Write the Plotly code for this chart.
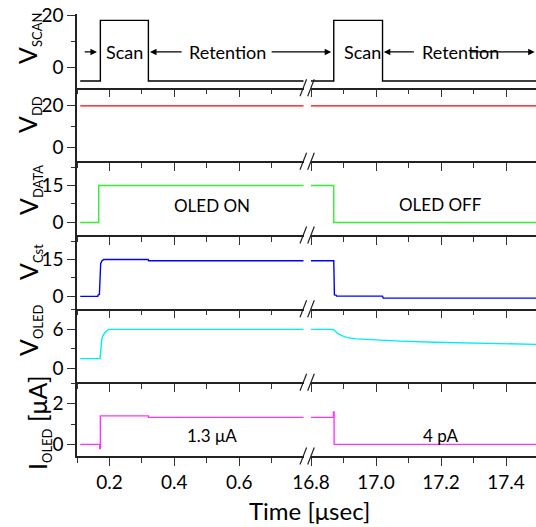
import plotly.graph_objects as go
from plotly.subplots import make_subplots

# ---------------- data (time in microseconds) ----------------
# left segment (0.1 - 0.8 us) and right segment (16.8 - 17.5 us)
scan_t_l = [0.11, 0.172, 0.172, 0.32, 0.32, 0.8]
scan_v_l = [-5, -5, 18, 18, -5, -5]
scan_t_r = [16.8, 16.87, 16.87, 17.02, 17.02, 17.5]
scan_v_r = [-5, -5, 18, 18, -5, -5]

vdd_t_l = [0.11, 0.8]
vdd_v_l = [20, 20]
vdd_t_r = [16.8, 17.5]
vdd_v_r = [20, 20]

data_t_l = [0.11, 0.167, 0.167, 0.8]
data_v_l = [0, 0, 15, 15]
data_t_r = [16.8, 16.87, 16.87, 17.5]
data_v_r = [15, 15, 0, 0]

cst_t_l = [0.11, 0.164, 0.165, 0.169, 0.173, 0.178, 0.183, 0.3195, 0.3205, 0.8]
cst_v_l = [0, 0, 0.6, 0.8, 13.4, 14.7, 15, 15, 14.5, 14.5]
cst_t_r = [16.8, 16.87, 16.872, 16.877, 16.879, 17.02, 17.022, 17.5]
cst_v_r = [14.5, 14.5, 0.6, 0.5, 0.1, 0.1, -0.7, -0.7]

oled_t_l = [0.11, 0.171, 0.173, 0.176, 0.180, 0.186, 0.193, 0.2, 0.8]
oled_v_l = [1.5, 1.5, 2.5, 4.3, 5.0, 5.5, 5.8, 5.95, 5.95]
oled_t_r = [16.8, 16.869, 16.873, 16.878, 16.883, 16.895, 16.912, 16.94,
            16.973, 17.02, 17.076, 17.18, 17.28, 17.5]
oled_v_r = [5.95, 5.95, 5.75, 5.5, 5.3, 5.0, 4.7, 4.5,
            4.4, 4.28, 4.17, 4.0, 3.88, 3.66]

ioled_t_l = [0.11, 0.17, 0.17, 0.172, 0.172, 0.32, 0.32, 0.8]
ioled_v_l = [0, 0, -0.2, -0.2, 1.4, 1.4, 1.33, 1.33]
ioled_t_r = [16.8, 16.869, 16.869, 16.871, 16.871, 17.5]
ioled_v_r = [1.33, 1.33, 1.6, 1.6, 0, 0]

series = [
    (scan_t_l, scan_v_l, scan_t_r, scan_v_r, "#000000"),
    (vdd_t_l, vdd_v_l, vdd_t_r, vdd_v_r, "#ff0000"),
    (data_t_l, data_v_l, data_t_r, data_v_r, "#33ee33"),
    (cst_t_l, cst_v_l, cst_t_r, cst_v_r, "#0000ff"),
    (oled_t_l, oled_v_l, oled_t_r, oled_v_r, "#00eeee"),
    (ioled_t_l, ioled_v_l, ioled_t_r, ioled_v_r, "#ff33ff"),
]

y_ranges = [[-7.55, 20.4], [-6.6, 28.7], [-5.1, 24.8], [-5.0, 25.0], [-2.1, 9.1], [-0.57, 3.05]]
y_dticks = [20, 20, 15, 15, 6, 2]
y_minor = [10, 10, 7.5, 7.5, 3, 1]

y_titles = [
    ("V<sub><span style='font-size:13px'>SCAN</span></sub>", 39, 28),
    ("V<sub><span style='font-size:13px'>DD</span></sub>", 115, 29),
    ("V<sub><span style='font-size:13px'>DATA</span></sub>", 190, 29),
    ("V<sub><span style='font-size:13px'>Cst</span></sub>", 262, 29),
    ("V<sub><span style='font-size:13px'>OLED</span></sub>", 330, 29),
    ("I<sub><span style='font-size:13px'>OLED</span></sub> [μA]", 423, 38),
]

FONT = "Lato"
W, H = 536, 527
ML, MR, MT, MB = 77, 0, 14, 71
PW = W - ML - MR
PH = H - MT - MB


def px_x(px):
    return (px - ML) / PW


def px_y(py):
    return (H - MB - py) / PH


fig = make_subplots(rows=6, cols=2, shared_xaxes=True, shared_yaxes=True,
                    vertical_spacing=0, horizontal_spacing=7.5 / PW,
                    column_widths=[226.5, 225])

for r, (tl, vl, tr, vr, col) in enumerate(series, start=1):
    fig.add_trace(go.Scatter(x=tl, y=vl, mode="lines", line=dict(color=col, width=1.4),
                             showlegend=False, hoverinfo="skip"), row=r, col=1)
    fig.add_trace(go.Scatter(x=tr, y=vr, mode="lines", line=dict(color=col, width=1.4),
                             showlegend=False, hoverinfo="skip"), row=r, col=2)

axis_common = dict(showline=True, linecolor="#222", linewidth=1.5, showgrid=False,
                   zeroline=False, ticks="outside", ticklen=8, tickwidth=1.2,
                   tickcolor="#333", tickfont=dict(family=FONT, size=19, color="black"))

fig.update_xaxes(range=[0.1, 0.798], tick0=0, dtick=0.2,
                 minor=dict(ticks="outside", ticklen=5, dtick=0.1, tick0=0, tickcolor="#333"),
                 col=1, **axis_common)
fig.update_xaxes(range=[16.8, 17.492], tick0=16.8, dtick=0.2, tickformat=".1f",
                 minor=dict(ticks="outside", ticklen=5, dtick=0.1, tick0=16.8, tickcolor="#333"),
                 col=2, **axis_common)

for r in range(1, 7):
    fig.update_yaxes(range=y_ranges[r - 1], tick0=0, dtick=y_dticks[r - 1],
                     minor=dict(ticks="outside", ticklen=4, dtick=y_minor[r - 1], tick0=0,
                                tickcolor="#333"),
                     row=r, col=1, **axis_common)
    fig.update_yaxes(range=y_ranges[r - 1], visible=False, row=r, col=2)

ann = []
tfont = dict(family=FONT, size=18, color="black")
# top panel texts and arrows
ann += [
    dict(x=0.245, y=6, xref="x", yref="y", text="Scan", showarrow=False, font=tfont),
    dict(x=0.565, y=6, xref="x", yref="y", text="Retention", showarrow=False, font=tfont),
    dict(x=16.957, y=6, xref="x2", yref="y2", text="Scan", showarrow=False, font=tfont),
    dict(x=17.26, y=6, xref="x2", yref="y2", text="Retention", showarrow=False, font=tfont),
]
arrow = dict(showarrow=True, text="", arrowhead=2, arrowsize=1, arrowwidth=1.3, arrowcolor="black")
ann += [
    dict(x=0.1615, y=6, xref="x", yref="y", ax=0.119, ay=6, axref="x", ayref="y", **arrow),
    dict(x=0.325, y=6, xref="x", yref="y", ax=0.427, ay=6, axref="x", ayref="y", **arrow),
    dict(x=16.862, y=6, xref="x2", yref="y2", ax=-61, ay=0, **arrow),
    dict(x=17.024, y=6, xref="x2", yref="y2", ax=17.121, ay=6, axref="x2", ayref="y2", **arrow),
    dict(x=17.488, y=6, xref="x2", yref="y2", ax=17.285, ay=6, axref="x2", ayref="y2", **arrow),
]
# panel texts
pfont = dict(family=FONT, size=17, color="black")
ann += [
    dict(x=0.515, y=7, xref="x5", yref="y5", text="OLED ON", showarrow=False, font=pfont),
    dict(x=17.199, y=7.3, xref="x6", yref="y6", text="OLED OFF", showarrow=False, font=pfont),
    dict(x=0.515, y=0.45, xref="x11", yref="y11", text="1.3 μA", showarrow=False, font=pfont),
    dict(x=17.2, y=0.45, xref="x12", yref="y12", text="4 pA", showarrow=False, font=pfont),
]
# y titles
for txt, yc, xc in y_titles:
    ann.append(dict(x=px_x(xc), y=px_y(yc), xref="paper", yref="paper", text=txt,
                    textangle=-90, showarrow=False, xanchor="center", yanchor="middle",
                    font=dict(family=FONT, size=25, color="black")))
# x title
ann.append(dict(x=px_x(309), y=px_y(510), xref="paper", yref="paper", text="Time [μsec]",
                showarrow=False, xanchor="center", yanchor="middle",
                font=dict(family=FONT, size=24, color="black")))

# axis-break marks
shapes = []
for k in range(1, 7):
    py = MT + k * PH / 6
    for xc in (303.3, 311.0):
        shapes.append(dict(type="line", xref="paper", yref="paper",
                           x0=px_x(xc - 3.3), y0=px_y(py + 8.5),
                           x1=px_x(xc + 3.3), y1=px_y(py - 8.5),
                           line=dict(color="#222", width=1.2)))

fig.update_layout(width=W, height=H, margin=dict(l=ML, r=MR, t=MT, b=MB),
                  plot_bgcolor="white", paper_bgcolor="white",
                  annotations=ann, shapes=shapes, showlegend=False)

fig.write_html("out.html", config={"displayModeBar": False},
               post_script="document.body.style.margin='0px';document.body.style.overflow='hidden';")
